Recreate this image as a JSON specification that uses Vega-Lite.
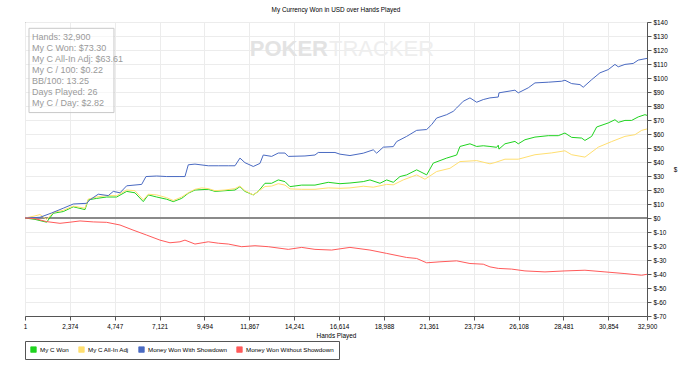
{
  "$schema": "https://vega.github.io/schema/vega-lite/v6.json",
  "width": 622,
  "height": 294,
  "autosize": "none",
  "padding": {"left": 25, "top": 22, "right": 53, "bottom": 52},
  "background": "#ffffff",
  "config": {
    "font": "Liberation Sans",
    "view": {"stroke": "#555555", "strokeWidth": 1},
    "axis": {"labelFont": "Liberation Sans", "titleFont": "Liberation Sans", "labelFontSize": 6.4, "titleFontSize": 6.4, "titleFontWeight": "normal", "labelColor": "#000000", "titleColor": "#000000", "gridColor": "#ececec", "gridWidth": 1, "domainColor": "#555555", "tickColor": "#555555", "tickSize": 4, "labelOverlap": false}
  },
  "title": {"text": "My Currency Won in USD over Hands Played", "fontSize": 6.4, "font": "Liberation Sans", "fontWeight": "normal", "color": "#000000", "anchor": "middle", "offset": 6},
  "layer": [
    {
      "data": {"values": [{"v": 0}]},
      "mark": {"type": "rule", "color": "#8a8a8a", "strokeWidth": 2},
      "encoding": {"y": {"field": "v", "type": "quantitative", "scale": {"domain": [-70, 140], "nice": false, "zero": false},
        "axis": {"orient": "right", "title": "$", "titleAngle": 0, "titleBaseline": "middle", "titleAlign": "left", "titlePadding": 6, "tickCount": 40, "values": [-70, -60, -50, -40, -30, -20, -10, 0, 10, 20, 30, 40, 50, 60, 70, 80, 90, 100, 110, 120, 130, 140], "labelExpr": "'$' + datum.value", "labelOverlap": false, "labelPadding": 2, "grid": true}}}
    },
    {
      "data": {"values": [{"x1": 212, "x2": 4707, "y1": 135.5, "y2": 75.3}]},
      "mark": {"type": "rect", "fill": "#ffffff", "fillOpacity": 0.6, "stroke": "#c8c8c8", "strokeWidth": 1},
      "encoding": {
        "x": {"field": "x1", "type": "quantitative", "scale": {"domain": [1, 32900], "nice": false, "zero": false},
          "axis": {"title": "Hands Played", "tickCount": 40, "values": [1, 2374, 4747, 7121, 9494, 11867, 14241, 16614, 18988, 21361, 23734, 26108, 28481, 30854, 32900], "format": ",d", "labelFlush": false, "labelOverlap": false, "labelPadding": 3, "titlePadding": 3, "grid": true}},
        "x2": {"field": "x2"},
        "y": {"field": "y1", "type": "quantitative"},
        "y2": {"field": "y2"}
      }
    },
    {
      "data": {"values": [
        {"x": 370, "y": 129.5, "t": "Hands: 32,900"},
        {"x": 370, "y": 121.6, "t": "My C Won: $73.30"},
        {"x": 370, "y": 113.7, "t": "My C All-In Adj: $63.61"},
        {"x": 370, "y": 105.8, "t": "My C / 100: $0.22"},
        {"x": 370, "y": 97.9, "t": "BB/100: 13.25"},
        {"x": 370, "y": 90.0, "t": "Days Played: 26"},
        {"x": 370, "y": 82.1, "t": "My C / Day: $2.82"}
      ]},
      "mark": {"type": "text", "align": "left", "baseline": "middle", "font": "Liberation Sans", "fontSize": 9, "color": "#9a9a9a"},
      "encoding": {
        "x": {"field": "x", "type": "quantitative"},
        "y": {"field": "y", "type": "quantitative"},
        "text": {"field": "t"}
      }
    },
    {
      "data": {"values": [{"x": 16025, "y": 120.5, "t": "POKER"}]},
      "mark": {"type": "text", "align": "right", "baseline": "middle", "font": "Liberation Sans", "fontSize": 22, "fontWeight": "bold", "color": "#e3e3e3"},
      "encoding": {
        "x": {"field": "x", "type": "quantitative"},
        "y": {"field": "y", "type": "quantitative"},
        "text": {"field": "t"}
      }
    },
    {
      "data": {"values": [{"x": 16078, "y": 120.5, "t": "TRACKER"}]},
      "mark": {"type": "text", "align": "left", "baseline": "middle", "font": "Liberation Sans", "fontSize": 22, "fontWeight": "normal", "color": "#eeeeee"},
      "encoding": {
        "x": {"field": "x", "type": "quantitative"},
        "y": {"field": "y", "type": "quantitative"},
        "text": {"field": "t"}
      }
    },
    {
      "data": {"values": [
        {"s": "My C Won", "h": 1, "v": 0}, {"s": "My C Won", "h": 529, "v": -1}, {"s": "My C Won", "h": 1148, "v": -3}, {"s": "My C Won", "h": 1497, "v": 3.4}, {"s": "My C Won", "h": 2026, "v": 4.6}, {"s": "My C Won", "h": 2555, "v": 8}, {"s": "My C Won", "h": 3173, "v": 6}, {"s": "My C Won", "h": 3348, "v": 13}, {"s": "My C Won", "h": 3792, "v": 14}, {"s": "My C Won", "h": 4321, "v": 15}, {"s": "My C Won", "h": 4850, "v": 15}, {"s": "My C Won", "h": 5379, "v": 19}, {"s": "My C Won", "h": 5818, "v": 18}, {"s": "My C Won", "h": 6257, "v": 11.7}, {"s": "My C Won", "h": 6521, "v": 16.5}, {"s": "My C Won", "h": 6966, "v": 15}, {"s": "My C Won", "h": 7495, "v": 13.4}, {"s": "My C Won", "h": 7844, "v": 11.7}, {"s": "My C Won", "h": 8288, "v": 14}, {"s": "My C Won", "h": 8637, "v": 17.7}, {"s": "My C Won", "h": 8991, "v": 20}, {"s": "My C Won", "h": 9695, "v": 20.5}, {"s": "My C Won", "h": 10049, "v": 19}, {"s": "My C Won", "h": 10578, "v": 19.5}, {"s": "My C Won", "h": 11107, "v": 20}, {"s": "My C Won", "h": 11371, "v": 22.4}, {"s": "My C Won", "h": 11636, "v": 19}, {"s": "My C Won", "h": 12075, "v": 16.5}, {"s": "My C Won", "h": 12339, "v": 19}, {"s": "My C Won", "h": 12694, "v": 24.8}, {"s": "My C Won", "h": 13048, "v": 24.8}, {"s": "My C Won", "h": 13397, "v": 27.2}, {"s": "My C Won", "h": 13751, "v": 26}, {"s": "My C Won", "h": 14016, "v": 22.4}, {"s": "My C Won", "h": 14635, "v": 23.5}, {"s": "My C Won", "h": 15338, "v": 23.5}, {"s": "My C Won", "h": 16041, "v": 25.5}, {"s": "My C Won", "h": 16660, "v": 24.5}, {"s": "My C Won", "h": 17189, "v": 25}, {"s": "My C Won", "h": 17893, "v": 26}, {"s": "My C Won", "h": 18247, "v": 27.2}, {"s": "My C Won", "h": 18776, "v": 24.8}, {"s": "My C Won", "h": 19131, "v": 27.2}, {"s": "My C Won", "h": 19480, "v": 25.5}, {"s": "My C Won", "h": 19834, "v": 29.6}, {"s": "My C Won", "h": 20188, "v": 30.8}, {"s": "My C Won", "h": 20717, "v": 34.4}, {"s": "My C Won", "h": 21246, "v": 30.8}, {"s": "My C Won", "h": 21595, "v": 39.2}, {"s": "My C Won", "h": 22304, "v": 42.8}, {"s": "My C Won", "h": 22833, "v": 45}, {"s": "My C Won", "h": 23007, "v": 51.1}, {"s": "My C Won", "h": 23536, "v": 53}, {"s": "My C Won", "h": 23891, "v": 51.1}, {"s": "My C Won", "h": 24240, "v": 51.6}, {"s": "My C Won", "h": 24594, "v": 51.1}, {"s": "My C Won", "h": 24948, "v": 50.5}, {"s": "My C Won", "h": 25033, "v": 52}, {"s": "My C Won", "h": 25070, "v": 49.2}, {"s": "My C Won", "h": 25387, "v": 53}, {"s": "My C Won", "h": 25916, "v": 54.7}, {"s": "My C Won", "h": 26091, "v": 53}, {"s": "My C Won", "h": 26445, "v": 55.9}, {"s": "My C Won", "h": 26974, "v": 57.8}, {"s": "My C Won", "h": 27678, "v": 58.8}, {"s": "My C Won", "h": 28206, "v": 58.8}, {"s": "My C Won", "h": 28561, "v": 60.7}, {"s": "My C Won", "h": 28915, "v": 57.6}, {"s": "My C Won", "h": 29444, "v": 57.1}, {"s": "My C Won", "h": 29618, "v": 55.4}, {"s": "My C Won", "h": 29973, "v": 58.3}, {"s": "My C Won", "h": 30237, "v": 65}, {"s": "My C Won", "h": 30851, "v": 67.9}, {"s": "My C Won", "h": 31205, "v": 70.2}, {"s": "My C Won", "h": 31380, "v": 68.3}, {"s": "My C Won", "h": 31734, "v": 69.7}, {"s": "My C Won", "h": 32088, "v": 69.7}, {"s": "My C Won", "h": 32437, "v": 72.2}, {"s": "My C Won", "h": 32792, "v": 73.8}, {"s": "My C Won", "h": 32900, "v": 73.3},

        {"s": "My C All-In Adj", "h": 1, "v": 0}, {"s": "My C All-In Adj", "h": 529, "v": 1.5}, {"s": "My C All-In Adj", "h": 793, "v": 2.5}, {"s": "My C All-In Adj", "h": 1148, "v": -1}, {"s": "My C All-In Adj", "h": 1497, "v": 4}, {"s": "My C All-In Adj", "h": 2026, "v": 5.5}, {"s": "My C All-In Adj", "h": 2555, "v": 8.5}, {"s": "My C All-In Adj", "h": 3173, "v": 7}, {"s": "My C All-In Adj", "h": 3348, "v": 13.5}, {"s": "My C All-In Adj", "h": 3792, "v": 15}, {"s": "My C All-In Adj", "h": 4321, "v": 16}, {"s": "My C All-In Adj", "h": 4850, "v": 16}, {"s": "My C All-In Adj", "h": 5379, "v": 20}, {"s": "My C All-In Adj", "h": 5818, "v": 19.5}, {"s": "My C All-In Adj", "h": 6257, "v": 13}, {"s": "My C All-In Adj", "h": 6521, "v": 17}, {"s": "My C All-In Adj", "h": 6966, "v": 16.5}, {"s": "My C All-In Adj", "h": 7495, "v": 14.5}, {"s": "My C All-In Adj", "h": 7844, "v": 12.5}, {"s": "My C All-In Adj", "h": 8288, "v": 15}, {"s": "My C All-In Adj", "h": 8637, "v": 18}, {"s": "My C All-In Adj", "h": 8991, "v": 20.5}, {"s": "My C All-In Adj", "h": 9346, "v": 21.5}, {"s": "My C All-In Adj", "h": 9695, "v": 21}, {"s": "My C All-In Adj", "h": 10049, "v": 19.5}, {"s": "My C All-In Adj", "h": 10578, "v": 20}, {"s": "My C All-In Adj", "h": 11107, "v": 21}, {"s": "My C All-In Adj", "h": 11371, "v": 22.8}, {"s": "My C All-In Adj", "h": 11636, "v": 19.5}, {"s": "My C All-In Adj", "h": 12075, "v": 16.5}, {"s": "My C All-In Adj", "h": 12339, "v": 19}, {"s": "My C All-In Adj", "h": 12694, "v": 22.5}, {"s": "My C All-In Adj", "h": 13048, "v": 22.8}, {"s": "My C All-In Adj", "h": 13397, "v": 24.5}, {"s": "My C All-In Adj", "h": 13751, "v": 23.5}, {"s": "My C All-In Adj", "h": 14016, "v": 20.8}, {"s": "My C All-In Adj", "h": 14635, "v": 20.5}, {"s": "My C All-In Adj", "h": 15338, "v": 20.5}, {"s": "My C All-In Adj", "h": 16041, "v": 21.5}, {"s": "My C All-In Adj", "h": 16660, "v": 21.2}, {"s": "My C All-In Adj", "h": 17189, "v": 21.5}, {"s": "My C All-In Adj", "h": 17893, "v": 22.7}, {"s": "My C All-In Adj", "h": 18422, "v": 22}, {"s": "My C All-In Adj", "h": 19131, "v": 24}, {"s": "My C All-In Adj", "h": 19480, "v": 23.7}, {"s": "My C All-In Adj", "h": 20009, "v": 27.2}, {"s": "My C All-In Adj", "h": 20717, "v": 30.8}, {"s": "My C All-In Adj", "h": 21156, "v": 27.7}, {"s": "My C All-In Adj", "h": 21775, "v": 33.2}, {"s": "My C All-In Adj", "h": 22478, "v": 35.5}, {"s": "My C All-In Adj", "h": 23007, "v": 40.3}, {"s": "My C All-In Adj", "h": 23891, "v": 41}, {"s": "My C All-In Adj", "h": 24594, "v": 38.7}, {"s": "My C All-In Adj", "h": 24858, "v": 39.6}, {"s": "My C All-In Adj", "h": 25387, "v": 42}, {"s": "My C All-In Adj", "h": 26091, "v": 42}, {"s": "My C All-In Adj", "h": 26974, "v": 45.2}, {"s": "My C All-In Adj", "h": 27857, "v": 46.5}, {"s": "My C All-In Adj", "h": 28561, "v": 48}, {"s": "My C All-In Adj", "h": 28915, "v": 45.2}, {"s": "My C All-In Adj", "h": 29618, "v": 43.5}, {"s": "My C All-In Adj", "h": 30322, "v": 50.6}, {"s": "My C All-In Adj", "h": 31031, "v": 54.6}, {"s": "My C All-In Adj", "h": 31734, "v": 58.3}, {"s": "My C All-In Adj", "h": 32263, "v": 59.5}, {"s": "My C All-In Adj", "h": 32617, "v": 62.6}, {"s": "My C All-In Adj", "h": 32900, "v": 63.6},

        {"s": "Money Won With Showdown", "h": 1, "v": 0}, {"s": "Money Won With Showdown", "h": 793, "v": 0.5}, {"s": "Money Won With Showdown", "h": 1412, "v": 3.6}, {"s": "Money Won With Showdown", "h": 2026, "v": 7}, {"s": "Money Won With Showdown", "h": 2555, "v": 10}, {"s": "Money Won With Showdown", "h": 3263, "v": 10.5}, {"s": "Money Won With Showdown", "h": 3438, "v": 13}, {"s": "Money Won With Showdown", "h": 3877, "v": 17}, {"s": "Money Won With Showdown", "h": 4406, "v": 16}, {"s": "Money Won With Showdown", "h": 4670, "v": 19}, {"s": "Money Won With Showdown", "h": 5025, "v": 18}, {"s": "Money Won With Showdown", "h": 5379, "v": 23}, {"s": "Money Won With Showdown", "h": 6172, "v": 24}, {"s": "Money Won With Showdown", "h": 6400, "v": 29.6}, {"s": "Money Won With Showdown", "h": 6966, "v": 30}, {"s": "Money Won With Showdown", "h": 7495, "v": 29.6}, {"s": "Money Won With Showdown", "h": 8198, "v": 29.6}, {"s": "Money Won With Showdown", "h": 8462, "v": 29.6}, {"s": "Money Won With Showdown", "h": 8637, "v": 38}, {"s": "Money Won With Showdown", "h": 8991, "v": 38.5}, {"s": "Money Won With Showdown", "h": 9695, "v": 37.3}, {"s": "Money Won With Showdown", "h": 10224, "v": 37.3}, {"s": "Money Won With Showdown", "h": 10753, "v": 37.3}, {"s": "Money Won With Showdown", "h": 11107, "v": 37.3}, {"s": "Money Won With Showdown", "h": 11371, "v": 42.8}, {"s": "Money Won With Showdown", "h": 11636, "v": 39.5}, {"s": "Money Won With Showdown", "h": 12075, "v": 36.8}, {"s": "Money Won With Showdown", "h": 12429, "v": 39}, {"s": "Money Won With Showdown", "h": 12604, "v": 45}, {"s": "Money Won With Showdown", "h": 13048, "v": 44}, {"s": "Money Won With Showdown", "h": 13397, "v": 46.4}, {"s": "Money Won With Showdown", "h": 13751, "v": 46.4}, {"s": "Money Won With Showdown", "h": 13926, "v": 44}, {"s": "Money Won With Showdown", "h": 14809, "v": 44.3}, {"s": "Money Won With Showdown", "h": 15338, "v": 45}, {"s": "Money Won With Showdown", "h": 15513, "v": 46.8}, {"s": "Money Won With Showdown", "h": 16396, "v": 46.8}, {"s": "Money Won With Showdown", "h": 16660, "v": 45.6}, {"s": "Money Won With Showdown", "h": 17189, "v": 44.6}, {"s": "Money Won With Showdown", "h": 17893, "v": 46.3}, {"s": "Money Won With Showdown", "h": 18422, "v": 48.7}, {"s": "Money Won With Showdown", "h": 18602, "v": 46.3}, {"s": "Money Won With Showdown", "h": 18951, "v": 50.6}, {"s": "Money Won With Showdown", "h": 19480, "v": 51}, {"s": "Money Won With Showdown", "h": 19659, "v": 54.6}, {"s": "Money Won With Showdown", "h": 20188, "v": 58.3}, {"s": "Money Won With Showdown", "h": 20717, "v": 62.6}, {"s": "Money Won With Showdown", "h": 21246, "v": 63.2}, {"s": "Money Won With Showdown", "h": 21510, "v": 66.7}, {"s": "Money Won With Showdown", "h": 21775, "v": 71.4}, {"s": "Money Won With Showdown", "h": 22304, "v": 73.8}, {"s": "Money Won With Showdown", "h": 22653, "v": 76.2}, {"s": "Money Won With Showdown", "h": 22833, "v": 78.6}, {"s": "Money Won With Showdown", "h": 23182, "v": 83.4}, {"s": "Money Won With Showdown", "h": 23536, "v": 85.8}, {"s": "Money Won With Showdown", "h": 23891, "v": 82.7}, {"s": "Money Won With Showdown", "h": 24240, "v": 84.6}, {"s": "Money Won With Showdown", "h": 24594, "v": 85.8}, {"s": "Money Won With Showdown", "h": 25033, "v": 86.4}, {"s": "Money Won With Showdown", "h": 25070, "v": 89.4}, {"s": "Money Won With Showdown", "h": 25916, "v": 91.3}, {"s": "Money Won With Showdown", "h": 26091, "v": 89.4}, {"s": "Money Won With Showdown", "h": 26620, "v": 93}, {"s": "Money Won With Showdown", "h": 26974, "v": 96.5}, {"s": "Money Won With Showdown", "h": 27678, "v": 97}, {"s": "Money Won With Showdown", "h": 28386, "v": 97.7}, {"s": "Money Won With Showdown", "h": 28561, "v": 98.4}, {"s": "Money Won With Showdown", "h": 28915, "v": 96}, {"s": "Money Won With Showdown", "h": 29354, "v": 95.3}, {"s": "Money Won With Showdown", "h": 29528, "v": 93.4}, {"s": "Money Won With Showdown", "h": 29973, "v": 98.8}, {"s": "Money Won With Showdown", "h": 30412, "v": 103.7}, {"s": "Money Won With Showdown", "h": 30851, "v": 106}, {"s": "Money Won With Showdown", "h": 31205, "v": 109.7}, {"s": "Money Won With Showdown", "h": 31380, "v": 108}, {"s": "Money Won With Showdown", "h": 31734, "v": 109.7}, {"s": "Money Won With Showdown", "h": 32173, "v": 110.4}, {"s": "Money Won With Showdown", "h": 32437, "v": 112.8}, {"s": "Money Won With Showdown", "h": 32900, "v": 114},

        {"s": "Money Won Without Showdown", "h": 1, "v": 0}, {"s": "Money Won Without Showdown", "h": 529, "v": -0.5}, {"s": "Money Won Without Showdown", "h": 1148, "v": -2.6}, {"s": "Money Won Without Showdown", "h": 1851, "v": -3.8}, {"s": "Money Won Without Showdown", "h": 2380, "v": -3}, {"s": "Money Won Without Showdown", "h": 2909, "v": -2.1}, {"s": "Money Won Without Showdown", "h": 3612, "v": -2.8}, {"s": "Money Won Without Showdown", "h": 4321, "v": -3.1}, {"s": "Money Won Without Showdown", "h": 5025, "v": -5}, {"s": "Money Won Without Showdown", "h": 5712, "v": -8.6}, {"s": "Money Won Without Showdown", "h": 6437, "v": -12.2}, {"s": "Money Won Without Showdown", "h": 7140, "v": -15.8}, {"s": "Money Won Without Showdown", "h": 7669, "v": -17.7}, {"s": "Money Won Without Showdown", "h": 8198, "v": -17}, {"s": "Money Won Without Showdown", "h": 8462, "v": -15.8}, {"s": "Money Won Without Showdown", "h": 8991, "v": -18.6}, {"s": "Money Won Without Showdown", "h": 9695, "v": -17}, {"s": "Money Won Without Showdown", "h": 10224, "v": -18}, {"s": "Money Won Without Showdown", "h": 10753, "v": -18.6}, {"s": "Money Won Without Showdown", "h": 11461, "v": -20.5}, {"s": "Money Won Without Showdown", "h": 12165, "v": -19.8}, {"s": "Money Won Without Showdown", "h": 12868, "v": -20.5}, {"s": "Money Won Without Showdown", "h": 13926, "v": -22.4}, {"s": "Money Won Without Showdown", "h": 14635, "v": -21}, {"s": "Money Won Without Showdown", "h": 15338, "v": -22.4}, {"s": "Money Won Without Showdown", "h": 16221, "v": -22.9}, {"s": "Money Won Without Showdown", "h": 17189, "v": -21}, {"s": "Money Won Without Showdown", "h": 18247, "v": -22.9}, {"s": "Money Won Without Showdown", "h": 19131, "v": -25.3}, {"s": "Money Won Without Showdown", "h": 20188, "v": -28.2}, {"s": "Money Won Without Showdown", "h": 20717, "v": -28.9}, {"s": "Money Won Without Showdown", "h": 21246, "v": -32}, {"s": "Money Won Without Showdown", "h": 21949, "v": -31.3}, {"s": "Money Won Without Showdown", "h": 22833, "v": -30.6}, {"s": "Money Won Without Showdown", "h": 23536, "v": -32.5}, {"s": "Money Won Without Showdown", "h": 24240, "v": -33}, {"s": "Money Won Without Showdown", "h": 24594, "v": -34.9}, {"s": "Money Won Without Showdown", "h": 25033, "v": -36}, {"s": "Money Won Without Showdown", "h": 25742, "v": -36.5}, {"s": "Money Won Without Showdown", "h": 26445, "v": -37.8}, {"s": "Money Won Without Showdown", "h": 27503, "v": -38.5}, {"s": "Money Won Without Showdown", "h": 28561, "v": -37.8}, {"s": "Money Won Without Showdown", "h": 29618, "v": -37.3}, {"s": "Money Won Without Showdown", "h": 30676, "v": -38.5}, {"s": "Money Won Without Showdown", "h": 31734, "v": -39.7}, {"s": "Money Won Without Showdown", "h": 32617, "v": -40.9}, {"s": "Money Won Without Showdown", "h": 32900, "v": -40.2}
      ]},
      "mark": {"type": "line", "strokeWidth": 1, "interpolate": "linear"},
      "encoding": {
        "x": {
          "field": "h", "type": "quantitative",
          "scale": {"domain": [1, 32900], "nice": false, "zero": false},
          "axis": {"title": "Hands Played", "tickCount": 40, "values": [1, 2374, 4747, 7121, 9494, 11867, 14241, 16614, 18988, 21361, 23734, 26108, 28481, 30854, 32900], "format": ",d", "labelFlush": false, "labelOverlap": false, "labelPadding": 3, "titlePadding": 3, "grid": true}
        },
        "y": {
          "field": "v", "type": "quantitative",
          "scale": {"domain": [-70, 140], "nice": false, "zero": false},
          "axis": {"orient": "right", "title": "$", "titleAngle": 0, "titleBaseline": "middle", "titleAlign": "left", "titlePadding": 6, "tickCount": 40, "values": [-70, -60, -50, -40, -30, -20, -10, 0, 10, 20, 30, 40, 50, 60, 70, 80, 90, 100, 110, 120, 130, 140], "labelExpr": "'$' + datum.value", "labelOverlap": false, "labelPadding": 2, "grid": true}
        },
        "color": {
          "field": "s", "type": "nominal",
          "sort": ["My C Won", "My C All-In Adj", "Money Won With Showdown", "Money Won Without Showdown"],
          "scale": {"domain": ["My C Won", "My C All-In Adj", "Money Won With Showdown", "Money Won Without Showdown"], "range": ["#1fd31f", "#ffdf70", "#4a6ac2", "#ff5a5a"]},
          "legend": {
            "title": null, "orient": "none", "legendX": 0, "legendY": 319, "direction": "horizontal", "columns": 4,
            "symbolType": "square", "symbolSize": 30, "symbolStrokeWidth": 1, "labelFontSize": 6.2, "labelFont": "Liberation Sans", "labelColor": "#000000",
            "columnPadding": 8, "labelOffset": 3, "padding": 5, "strokeColor": "#555555", "fillColor": "#ffffff",
            "encode": {"symbols": {"update": {"fill": {"scale": "color", "field": "value"}, "stroke": {"value": "#333333"}, "strokeWidth": {"value": 0.8}}}}
          }
        },
        "strokeWidth": {
          "condition": {"test": "datum.s === 'My C Won'", "value": 1.6},
          "value": 1
        }
      }
    }
  ]
}
